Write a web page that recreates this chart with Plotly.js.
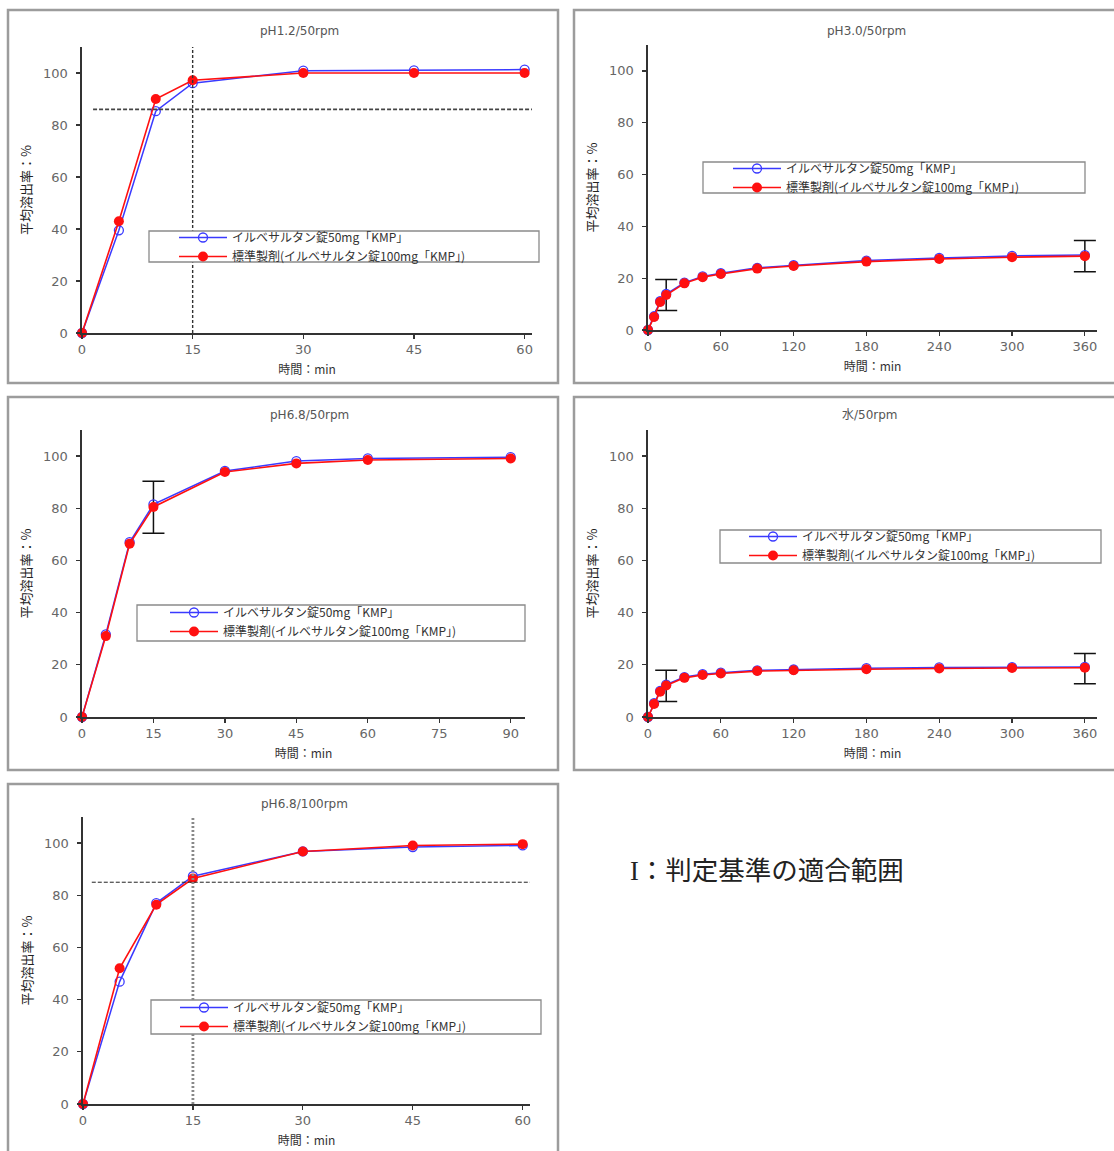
<!DOCTYPE html>
<html><head><meta charset="utf-8">
<script src="https://cdn.plot.ly/plotly-3.0.1.min.js"></script>
<style>html,body{margin:0;padding:0;background:#fff;}#chart{width:1114px;height:1151px;}</style>
</head><body><div id="chart"></div>
<script>
// ---------- data ----------
const panelTitles = ["pH1.2/50rpm", "pH3.0/50rpm", "pH6.8/50rpm", "水/50rpm", "pH6.8/100rpm"];
const seriesNames = ["イルベサルタン錠50mg「KMP」", "標準製剤(イルベサルタン錠100mg「KMP」)"];
const xTitle = "時間：min";
const yTitle = "平均溶出率：%";
const noteText = "I：判定基準の適合範囲";

const time60 = [0, 5, 10, 15, 30, 45, 60];
const time90 = [0, 5, 10, 15, 30, 45, 60, 90];
const time360 = [0, 5, 10, 15, 30, 45, 60, 90, 120, 180, 240, 300, 360];

const xTicks60 = [0, 15, 30, 45, 60];
const xTicks90 = [0, 15, 30, 45, 60, 75, 90];
const xTicks360 = [0, 60, 120, 180, 240, 300, 360];
const yTicks = [0, 20, 40, 60, 80, 100];

// pH1.2 / 50rpm
const ph12Test = [0, 39.5, 85.3, 96.1, 100.9, 101.0, 101.3];
const ph12Ref  = [0, 43.0, 90.0, 97.2, 100.0, 100.0, 100.0];
const ph12Limit = 86;
// pH3.0 / 50rpm
const ph30Test = [0, 5.3, 11.1, 13.9, 18.3, 20.7, 21.9, 24.0, 25.0, 26.8, 27.8, 28.6, 28.9];
const ph30Ref  = [0, 5.0, 10.8, 13.5, 18.0, 20.4, 21.6, 23.7, 24.7, 26.4, 27.4, 28.1, 28.5];
const ph30RangeTime = [15, 360];
const ph30RangeMid  = [13.5, 28.5];
const ph30RangeHalf = [6, 6];
// pH6.8 / 50rpm
const ph68Test = [0, 31.7, 67.0, 81.5, 94.3, 98.1, 99.1, 99.6];
const ph68Ref  = [0, 31.0, 66.4, 80.5, 93.9, 97.2, 98.5, 99.1];
const ph68RangeTime = [15];
const ph68RangeMid  = [80.4];
const ph68RangeHalf = [10];
// water / 50rpm
const waterTest = [0, 5.3, 10.0, 12.4, 15.3, 16.4, 17.0, 17.9, 18.2, 18.7, 19.0, 19.1, 19.2];
const waterRef  = [0, 5.0, 9.7, 12.1, 15.0, 16.1, 16.7, 17.6, 17.9, 18.3, 18.6, 18.8, 18.9];
const waterRangeTime = [15, 360];
const waterRangeMid  = [11.9, 18.5];
const waterRangeHalf = [6, 5.8];
// pH6.8 / 100rpm
const ph68fTest = [0, 46.9, 77.0, 87.3, 96.8, 98.5, 99.1];
const ph68fRef  = [0, 52.0, 76.4, 86.4, 96.8, 99.1, 99.6];
const ph68fLimit = 85;
const limitTime = 15;

// ---------- layout helpers ----------
const W = 1114, H = 1151;
const px = v => v / W;
const py = v => 1 - v / H;

const FONT = "DejaVu Sans, Noto Sans CJK JP, sans-serif";
const JFONT = "Noto Sans CJK JP, sans-serif";
const BLUE = "#3a3aff", RED = "#ff1010";

const panels = [
  {xpx:[82,532],  ypx:[47,333],   xr:[0,61],  xt:xTicks60,  x:time60,  test:ph12Test,  ref:ph12Ref,
   title:[299,31], leg:{box:[149,231,539,262], left:174, top:223}},
  {xpx:[648,1097],ypx:[45,330],   xr:[0,370], xt:xTicks360, x:time360, test:ph30Test,  ref:ph30Ref,
   title:[866,31], leg:{box:[703,162,1085,193], left:728, top:154},
   err:[ph30RangeTime, ph30RangeMid, ph30RangeHalf]},
  {xpx:[82,525],  ypx:[430,717],  xr:[0,93],  xt:xTicks90,  x:time90,  test:ph68Test,  ref:ph68Ref,
   title:[309,415], leg:{box:[137,605,525,641], left:165, top:598},
   err:[ph68RangeTime, ph68RangeMid, ph68RangeHalf]},
  {xpx:[648,1097],ypx:[430,717],  xr:[0,370], xt:xTicks360, x:time360, test:waterTest, ref:waterRef,
   title:[870,415], leg:{box:[720,530,1101,563], left:744, top:522},
   err:[waterRangeTime, waterRangeMid, waterRangeHalf]},
  {xpx:[83,530],  ypx:[817,1104], xr:[0,61],  xt:xTicks60,  x:time60,  test:ph68fTest, ref:ph68fRef,
   title:[304,804], leg:{box:[151,1000,541,1034], left:175, top:993}}
];

const frames = [[8,10,558,383],[574,10,1118,383],[8,397,558,770],[574,397,1118,770],[8,784,558,1156]];

const traces = [];
const layout = {
  width: W, height: H,
  margin: {l:0, r:0, t:0, b:0},
  paper_bgcolor: "#ffffff", plot_bgcolor: "rgba(0,0,0,0)",
  showlegend: true,
  font: {family: FONT, size: 12, color: "#444"},
  shapes: [], annotations: []
};

panels.forEach((p, i) => {
  const n = i === 0 ? "" : String(i + 1);
  const xa = "x" + n, ya = "y" + n;
  const legName = "legend" + n;

  layout["xaxis" + n] = {
    domain: [px(p.xpx[0]), px(p.xpx[1])], anchor: ya, range: p.xr,
    tickmode: "array", tickvals: p.xt, ticks: "outside", ticklen: 4, tickwidth: 1.2, tickcolor: "#333",
    showline: true, linecolor: "#333", linewidth: 1.6, showgrid: false, zeroline: false,
    tickfont: {family: FONT, size: 13, color: "#666"}, ticklabelstandoff: 0,
    title: {text: xTitle, font: {family: JFONT, size: 12, color: "#333"}, standoff: 9}
  };
  layout["yaxis" + n] = {
    domain: [py(p.ypx[1]), py(p.ypx[0])], anchor: xa, range: [0, 110],
    tickmode: "array", tickvals: yTicks, ticks: "outside", ticklen: 4, tickwidth: 1.2, tickcolor: "#333",
    showline: true, linecolor: "#333", linewidth: 1.6, showgrid: false, zeroline: false,
    tickfont: {family: FONT, size: 13, color: "#666"}, ticklabelstandoff: 6,
    title: {text: yTitle, font: {family: JFONT, size: 13, color: "#222"}, standoff: 8}
  };

  if (p.err) {
    traces.push({
      type: "scatter", mode: "markers", x: p.err[0], y: p.err[1], xaxis: xa, yaxis: ya,
      marker: {size: 1, color: "rgba(0,0,0,0)"}, showlegend: false, hoverinfo: "skip", cliponaxis: false,
      error_y: {type: "data", array: p.err[2], visible: true, color: "#111", thickness: 1.5, width: 11}
    });
  }
  traces.push({
    type: "scatter", mode: "lines+markers", name: seriesNames[0], x: p.x, y: p.test,
    xaxis: xa, yaxis: ya, legend: legName, cliponaxis: false,
    line: {color: BLUE, width: 1.5},
    marker: {symbol: "circle-open", size: 9, color: BLUE, line: {width: 1.3, color: BLUE}}
  });
  traces.push({
    type: "scatter", mode: "lines+markers", name: seriesNames[1], x: p.x, y: p.ref,
    xaxis: xa, yaxis: ya, legend: legName, cliponaxis: false,
    line: {color: RED, width: 1.6},
    marker: {symbol: "circle", size: 10, color: RED}
  });

  layout[legName] = {
    x: px(p.leg.left), y: py(p.leg.top), xanchor: "left", yanchor: "top",
    bgcolor: "rgba(0,0,0,0)", borderwidth: 0, itemwidth: 48, tracegroupgap: 0,
    font: {family: JFONT, size: 12, color: "#333"}
  };
  const b = p.leg.box;
  layout.shapes.push({type: "rect", xref: "paper", yref: "paper", layer: "above",
    x0: px(b[0]), x1: px(b[2]), y0: py(b[3]), y1: py(b[1]),
    fillcolor: "#ffffff", line: {color: "#8a8a8a", width: 1.3}});

  layout.annotations.push({xref: "paper", yref: "paper", x: px(p.title[0]), y: py(p.title[1]),
    xanchor: "center", yanchor: "middle", showarrow: false, text: panelTitles[i],
    font: {family: FONT, size: 12, color: "#555"}});
});

// reference (criterion) lines
layout.shapes.push({type: "line", xref: "x", yref: "y", x0: 1.5, x1: 61.5, y0: ph12Limit, y1: ph12Limit,
  layer: "above", line: {color: "#444", width: 1.8, dash: "4px,2px"}});
layout.shapes.push({type: "line", xref: "x", yref: "y", x0: limitTime, x1: limitTime, y0: 0, y1: 110,
  layer: "above", line: {color: "#333", width: 1.4, dash: "3px,2px"}});
layout.shapes.push({type: "line", xref: "x5", yref: "y5", x0: 1.2, x1: 61, y0: ph68fLimit, y1: ph68fLimit,
  layer: "above", line: {color: "#222", width: 1, dash: "4px,2px"}});
layout.shapes.push({type: "line", xref: "x5", yref: "y5", x0: limitTime, x1: limitTime, y0: 0, y1: 110,
  layer: "above", line: {color: "#888", width: 2.8, dash: "2px,2px"}});

// the legend boxes must sit above reference lines: move them to the end
const boxes = layout.shapes.filter(s => s.type === "rect");
layout.shapes = layout.shapes.filter(s => s.type !== "rect").concat(boxes);

// panel frames
frames.forEach(f => layout.shapes.push({type: "rect", xref: "paper", yref: "paper", layer: "above",
  x0: px(f[0]), x1: px(f[2]), y0: py(f[3]), y1: py(f[1]), line: {color: "#9c9c9c", width: 2.5}}));

// note
layout.annotations.push({xref: "paper", yref: "paper", x: px(628), y: py(871), xanchor: "left", yanchor: "middle",
  showarrow: false, text: noteText, font: {family: "Liberation Serif, Noto Sans CJK JP, serif", size: 26.5, color: "#222"}});

Plotly.newPlot("chart", traces, layout, {staticPlot: true, displayModeBar: false});
</script></body></html>
